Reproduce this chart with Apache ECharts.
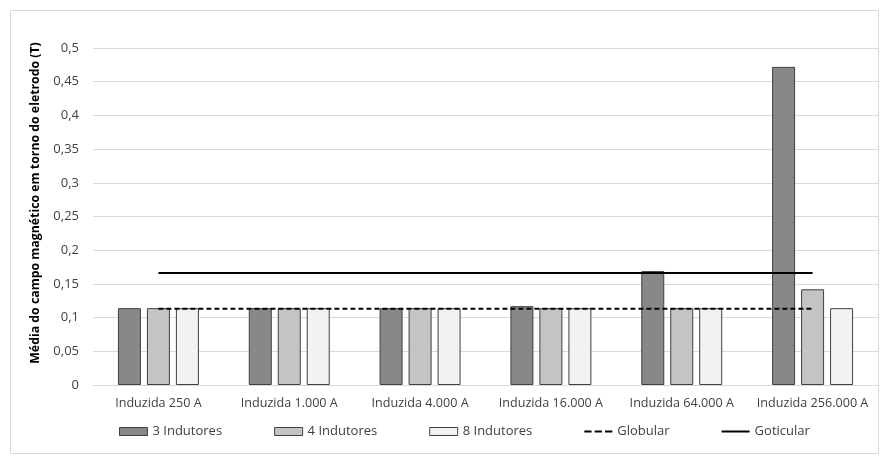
<!DOCTYPE html>
<html><head><meta charset="utf-8">
<script src="https://cdn.jsdelivr.net/npm/echarts@6/dist/echarts.min.js"></script>
<style>html,body{margin:0;padding:0;background:#fff}#c{width:880px;height:457px}</style>
</head><body><div id="c"></div>
<script>
const categories = ['Induzida 250 A','Induzida 1.000 A','Induzida 4.000 A','Induzida 16.000 A','Induzida 64.000 A','Induzida 256.000 A'];
const ind3 = [0.114, 0.114, 0.114, 0.117, 0.169, 0.472];
const ind4 = [0.114, 0.114, 0.114, 0.114, 0.114, 0.142];
const ind8 = [0.114, 0.114, 0.114, 0.114, 0.114, 0.114];
const globular = [0.113, 0.113, 0.113, 0.113, 0.113, 0.113];
const goticular = [0.166, 0.166, 0.166, 0.166, 0.166, 0.166];
const yTitle = 'Média do campo magnético em torno do eletrodo (T)';

const FONT = 'Open Sans';
const chart = echarts.init(document.getElementById('c'));
const barBase = {type:'bar', barWidth:23, barGap:'26%'};
chart.setOption({
  animation:false,
  textStyle:{fontFamily:FONT},
  graphic:[
    {type:'rect', shape:{x:10.5,y:10.5,width:868,height:443}, style:{fill:'none', stroke:'#d9d9d9', lineWidth:1}, silent:true},
    {type:'text', x:35, y:203, rotation:Math.PI/2, style:{text:yTitle, fill:'#000', font:'bold 12.3px "Open Sans"', align:'center', verticalAlign:'middle'}}
  ],
  grid:{left:93, right:2, top:48, bottom:72},
  legend:{bottom:14, left:114, itemGap:52, itemWidth:28, itemHeight:8, itemStyle:{borderColor:'#404040', borderWidth:1},
    textStyle:{fontFamily:FONT, fontSize:13, color:'#404040'},
    data:[{name:'3 Indutores', icon:'rect'},{name:'4 Indutores', icon:'rect'},{name:'8 Indutores', icon:'rect'},
      {name:'Globular', icon:'path://M0,0h7v2h-7z M10,0h7v2h-7z M20,0h7v2h-7z', itemStyle:{borderWidth:0}},
      {name:'Goticular', icon:'path://M0,0h28v2h-28z', itemStyle:{borderWidth:0}}]},
  xAxis:{type:'category', data:categories,
    axisLine:{lineStyle:{color:'#d9d9d9'}}, axisTick:{show:false},
    axisLabel:{fontFamily:FONT, fontSize:12.6, color:'#404040', margin:12, interval:0}},
  yAxis:{type:'value', min:0, max:0.5, interval:0.05,
    axisLine:{show:false}, axisTick:{show:false},
    splitLine:{lineStyle:{color:'#d9d9d9'}},
    axisLabel:{fontFamily:FONT, fontSize:13, color:'#404040', margin:14,
      formatter:v=>String(Math.round(v*100)/100).replace('.',',')}},
  series:[
    Object.assign({}, barBase, {name:'3 Indutores', data:ind3, itemStyle:{color:'#888888', borderColor:'#404040', borderWidth:1}}),
    Object.assign({}, barBase, {name:'4 Indutores', data:ind4, itemStyle:{color:'#c4c4c4', borderColor:'#404040', borderWidth:1}}),
    Object.assign({}, barBase, {name:'8 Indutores', data:ind8, itemStyle:{color:'#f2f2f2', borderColor:'#404040', borderWidth:1}}),
    {name:'Globular', type:'line', data:globular, symbol:'none', itemStyle:{color:'#000'}, lineStyle:{color:'#000', width:2, type:[5,3]}, z:5},
    {name:'Goticular', type:'line', data:goticular, symbol:'none', itemStyle:{color:'#000'}, lineStyle:{color:'#000', width:2}, z:5}
  ]
});
</script></body></html>
